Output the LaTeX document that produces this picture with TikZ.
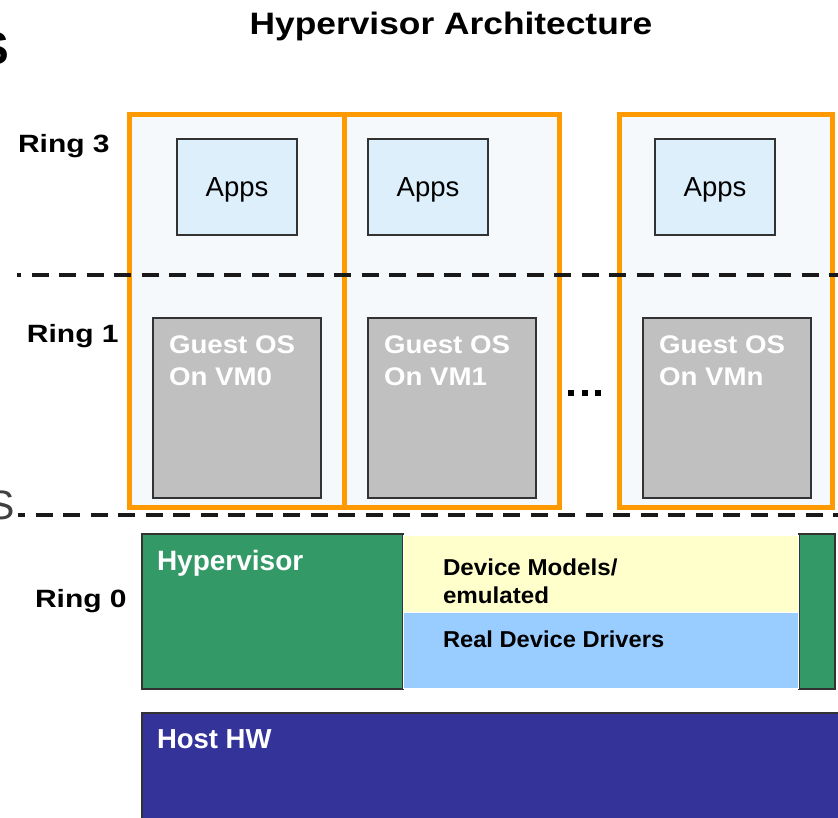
\documentclass[tikz,border=0pt]{standalone}
\usepackage{fontspec}
\usepackage{graphicx}
\setmainfont{Liberation Sans}
\newcommand{\hsc}[2]{\scalebox{#1}[1]{#2}}

\definecolor{vmorange}{HTML}{FF9900}
\definecolor{vmfill}{HTML}{F5F9FC}
\definecolor{appfill}{HTML}{DDEFFB}
\definecolor{osfill}{HTML}{C0C0C0}
\definecolor{hvgreen}{HTML}{339966}
\definecolor{devyellow}{HTML}{FFFFCC}
\definecolor{devblue}{HTML}{99CCFF}
\definecolor{hwblue}{HTML}{333399}
\definecolor{edgegray}{HTML}{333333}
\definecolor{slidegray}{HTML}{404040}

\tikzset{
  box/.style={inner sep=0pt, outer sep=0pt, anchor=north west},
  vmbox/.style={box, draw=vmorange, line width=5pt, fill=vmfill},
  appbox/.style={box, draw=edgegray, line width=1.2pt, fill=appfill},
  osbox/.style={box, draw=edgegray, line width=1.2pt, fill=osfill},
  layerbox/.style={box, draw=edgegray, line width=1.2pt},
  devbox/.style={box, draw=white, line width=1pt},
  ringsep/.style={draw=black!90, line width=3.5pt, dash pattern=on 17pt off 10.5pt},
  lbl/.style={inner sep=0pt, outer sep=0pt, anchor=base west},
  ringlbl/.style={lbl, font=\bfseries\fontsize{25pt}{30pt}\selectfont},
  appslbl/.style={inner sep=0pt, anchor=base, font=\fontsize{27.5pt}{33pt}\selectfont},
  oslbl/.style={lbl, text=white, align=left, font=\bfseries\fontsize{25.5pt}{32pt}\selectfont},
  whitelbl/.style={lbl, text=white, font=\bfseries\fontsize{28pt}{33pt}\selectfont},
  devlbl/.style={lbl, font=\bfseries\fontsize{23pt}{28pt}\selectfont},
}

\begin{document}
\begin{tikzpicture}[x=1pt, y=-1pt]
\useasboundingbox (0,0) rectangle (838,818);
\clip (0,0) rectangle (838,818);

% stray slide lettering at the left edge
\node[inner sep=0pt, anchor=base east, font=\bfseries\fontsize{46pt}{50pt}\selectfont] (stop) at (9.2,65) {S};
\node[inner sep=0pt, anchor=base east, text=slidegray, font=\fontsize{41pt}{48pt}\selectfont] (slow) at (15,519) {S};

% title
\node[inner sep=0pt, anchor=base, font=\bfseries\fontsize{31pt}{37pt}\selectfont] (title) at (451,35) {\hsc{1.14}{Hypervisor Architecture}};

% ring labels
\node[ringlbl] (ring3) at (18,153) {\hsc{1.2}{Ring 3}};
\node[ringlbl] (ring1) at (27,342) {\hsc{1.2}{Ring 1}};
\node[ringlbl] (ring0) at (35,607) {\hsc{1.2}{Ring 0}};

% virtual machine frames
\node[vmbox, minimum width=214.5pt, minimum height=392pt] (vm0) at (129.5,115) {};
\node[vmbox, minimum width=215pt, minimum height=392pt] (vm1) at (344,115) {};
\node[vmbox, minimum width=212.5pt, minimum height=392pt] (vmn) at (619.5,115) {};

% application boxes
\node[appbox, minimum width=120pt, minimum height=96pt] (apps0) at (177,139) {};
\node[appbox, minimum width=120pt, minimum height=96pt] (apps1) at (368,139) {};
\node[appbox, minimum width=120pt, minimum height=96pt] (appsn) at (655,139) {};
\node[appslbl] (apps0t) at (237,197) {Apps};
\node[appslbl] (apps1t) at (428,197) {Apps};
\node[appslbl] (appsnt) at (715,197) {Apps};

% guest operating systems
\node[osbox, minimum width=168pt, minimum height=180pt] (os0) at (153,318) {};
\node[osbox, minimum width=168pt, minimum height=180pt] (os1) at (368,318) {};
\node[osbox, minimum width=168pt, minimum height=180pt] (osn) at (643,318) {};
\node[oslbl] (os0a) at (169,353) {\hsc{1.085}{Guest OS}};
\node[oslbl] (os0b) at (169,385) {\hsc{1.085}{On VM0}};
\node[oslbl] (os1a) at (384,353) {\hsc{1.085}{Guest OS}};
\node[oslbl] (os1b) at (384,385) {\hsc{1.085}{On VM1}};
\node[oslbl] (osna) at (659,353) {\hsc{1.085}{Guest OS}};
\node[oslbl] (osnb) at (659,385) {\hsc{1.085}{On VMn}};

% ellipsis between the machines
\fill[black] (568,390) rectangle +(6,6);
\fill[black] (581.5,390) rectangle +(6,6);
\fill[black] (595,390) rectangle +(6,6);

% ring boundaries
\coordinate (sepAl) at (17,275);
\coordinate (sepAr) at (838,275);
\coordinate (sepBl) at (18,515);
\coordinate (sepBr) at (838,515);
\draw[ringsep, dash phase=13pt] (sepAl) -- (sepAr);
\draw[ringsep, dash phase=10pt] (sepBl) -- (sepBr);

% hypervisor layer
\node[layerbox, fill=hvgreen, minimum width=261pt, minimum height=155pt] (hv) at (142,534) {};
\node[layerbox, fill=hvgreen, minimum width=36pt, minimum height=155pt] (hvr) at (799,534) {};
\node[devbox, fill=devyellow, minimum width=395pt, minimum height=77pt] (devmod) at (403.5,535) {};
\node[devbox, fill=devblue, minimum width=395pt, minimum height=76pt] (devdrv) at (403.5,612) {};
\node[whitelbl] (hvt) at (157,570) {Hypervisor};
\node[devlbl] (devmoda) at (443,575) {\hsc{1.05}{Device Models/}};
\node[devlbl] (devmodb) at (443,603) {\hsc{1.05}{emulated}};
\node[devlbl] (devdrvt) at (443,647) {\hsc{1.03}{Real Device Drivers}};

% host hardware
\node[layerbox, fill=hwblue, minimum width=710pt, minimum height=120pt] (hw) at (142,713) {};
\node[whitelbl, font=\bfseries\fontsize{27.5pt}{33pt}\selectfont] (hwt) at (157,748) {Host HW};
\end{tikzpicture}
\end{document}
